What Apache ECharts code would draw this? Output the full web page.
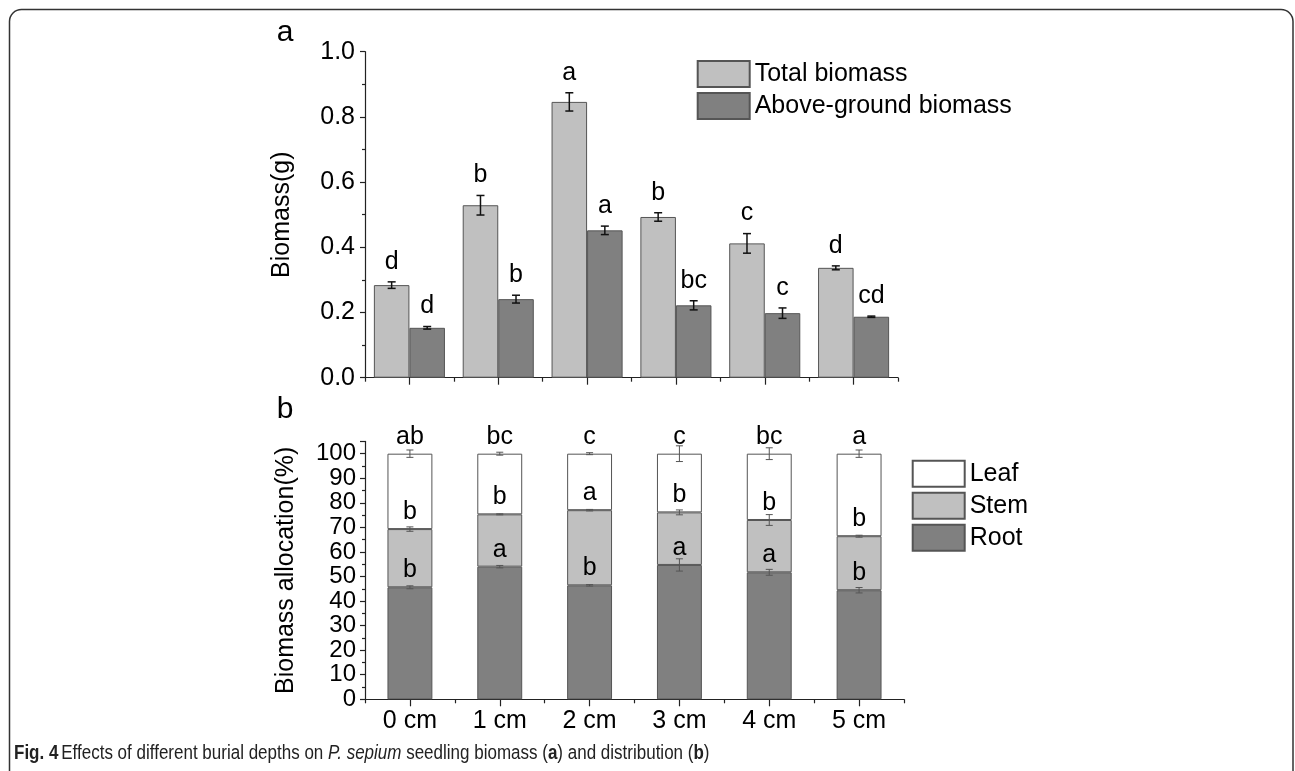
<!DOCTYPE html>
<html><head><meta charset="utf-8">
<script src="https://cdn.jsdelivr.net/npm/echarts@6/dist/echarts.min.js"></script>
<style>html,body{margin:0;padding:0;background:#fff}#c{width:1295px;height:771px}</style>
</head><body><div id="c"></div>
<script>
const categories = ['0 cm','1 cm','2 cm','3 cm','4 cm','5 cm'];
// panel a (g)
const totalBiomass = [0.284, 0.529, 0.846, 0.493, 0.412, 0.337];
const totalErr     = [0.010, 0.030, 0.028, 0.013, 0.030, 0.006];
const totalLetters = ['d','b','a','b','c','d'];
const aboveBiomass = [0.153, 0.241, 0.452, 0.222, 0.198, 0.187];
const aboveErr     = [0.004, 0.012, 0.013, 0.014, 0.016, 0.002];
const aboveLetters = ['d','b','a','bc','c','cd'];
// panel b (%)
const rootPct = [45.6, 54.0, 46.4, 54.7, 51.7, 44.4];
const rootErr = [0.6, 0.5, 0.3, 2.5, 1.2, 1.1];
const rootLetters = ['b','a','b','a','a','b'];
const stemPct = [23.7, 21.3, 30.6, 21.4, 21.3, 22.0];
const stemErr = [0.9, 0.2, 0.3, 1.0, 2.2, 0.4];
const stemLetters = ['b','b','a','b','b','b'];
const leafPct = [30.7, 24.7, 23.0, 23.9, 27.0, 33.6];
const leafErr = [1.5, 0.6, 0.4, 3.2, 2.4, 1.5];
const leafLetters = ['ab','bc','c','c','bc','a'];

const FONT = "'Liberation Sans', Arial, sans-serif";
const FS = 25;
const AXC = '#222';

function errRenderer(letters, opts) {
  return function (params, api) {
    const i = api.value(0), v = api.value(1), e = api.value(2);
    const bw = api.size([1, 0])[0];
    const x = api.coord([i, v])[0] + opts.offset * bw;
    const yTop = api.coord([i, v + e])[1];
    const yBot = api.coord([i, v - e])[1];
    const yVal = api.coord([i, v])[1];
    const ls = { stroke: opts.color, lineWidth: opts.lw };
    return {
      type: 'group',
      children: [
        { type: 'line', shape: { x1: x, y1: yTop, x2: x, y2: yBot }, style: ls },
        { type: 'line', shape: { x1: x - opts.cap, y1: yTop, x2: x + opts.cap, y2: yTop }, style: ls },
        { type: 'line', shape: { x1: x - opts.cap, y1: yBot, x2: x + opts.cap, y2: yBot }, style: ls },
        { type: 'text', x: x, y: (opts.fromErr ? yTop : yVal) - opts.lift,
          style: { text: letters[params.dataIndex], fill: '#000', fontSize: FS, fontFamily: FONT,
                   align: 'center', verticalAlign: 'middle' } }
      ]
    };
  };
}

const stemTop = rootPct.map((r, i) => r + stemPct[i]);
const leafTop = stemTop.map((s, i) => s + leafPct[i]);

function mkErr(vals, errs) { return vals.map((v, i) => [i, v, errs[i]]); }

function xCat(gridIndex, main, showLabel) {
  return {
    type: 'category', gridIndex: gridIndex, data: categories, position: 'bottom', boundaryGap: true,
    axisLine: { show: main, onZero: false, lineStyle: { color: AXC, width: 1.2 } },
    axisTick: { show: true, alignWithLabel: main, length: main ? 7 : 4, lineStyle: { color: AXC, width: 1.2 } },
    axisLabel: { show: showLabel && main, color: '#000', fontSize: FS, fontFamily: FONT, margin: 9,
                 interval: 0, hideOverlap: false },
    splitLine: { show: false }
  };
}

const CAPFONT = "'Liberation Sans', Arial, sans-serif";

const option = {
  backgroundColor: '#fff',
  animation: false,
  textStyle: { fontFamily: FONT },
  grid: [
    { left: 365, top: 51.7, width: 533, height: 326, outerBoundsMode: 'none' },
    { left: 365, top: 441.4, width: 539, height: 257.9, outerBoundsMode: 'none' }
  ],
  xAxis: [
    xCat(0, true, false), xCat(0, false, false),
    xCat(1, true, true), xCat(1, false, false)
  ],
  yAxis: [
    { type: 'value', gridIndex: 0, min: 0, max: 1.0, interval: 0.2,
      name: 'Biomass(g)', nameLocation: 'middle', nameGap: 70, nameRotate: 90,
      nameTextStyle: { fontSize: FS, color: '#000', fontFamily: FONT },
      axisLine: { show: true, lineStyle: { color: AXC, width: 1.2 } },
      axisTick: { show: true, length: 5, lineStyle: { color: AXC, width: 1.2 } },
      minorTick: { show: true, splitNumber: 2, length: 3, lineStyle: { color: AXC, width: 1.2 } },
      axisLabel: { fontSize: FS, color: '#000', fontFamily: FONT, margin: 10, showMinLabel: true,
                   hideOverlap: false, formatter: v => v.toFixed(1) },
      splitLine: { show: false } },
    { type: 'value', gridIndex: 1, min: 0, max: 105, interval: 10,
      name: 'Biomass allocation(%)', nameLocation: 'middle', nameGap: 66, nameRotate: 90,
      nameTextStyle: { fontSize: FS, color: '#000', fontFamily: FONT },
      axisLine: { show: true, lineStyle: { color: AXC, width: 1.2 } },
      axisTick: { show: true, length: 5, lineStyle: { color: AXC, width: 1.2 } },
      minorTick: { show: true, splitNumber: 2, length: 3, lineStyle: { color: AXC, width: 1.2 } },
      axisLabel: { fontSize: 24, color: '#000', fontFamily: FONT, margin: 9,
                   showMaxLabel: false, hideOverlap: false },
      splitLine: { show: false } }
  ],
  legend: [
    { orient: 'vertical', left: 696.7, top: 60, itemWidth: 52, itemHeight: 26, itemGap: 4,
      icon: 'rect', data: ['Total biomass', 'Above-ground biomass'],
      textStyle: { fontSize: FS, color: '#000', fontFamily: FONT },
      padding: 0, selectedMode: false },
    { orient: 'vertical', left: 911.7, top: 459.7, itemWidth: 52, itemHeight: 26, itemGap: 4,
      icon: 'rect', data: ['Leaf', 'Stem', 'Root'],
      textStyle: { fontSize: FS, color: '#000', fontFamily: FONT },
      padding: 0, selectedMode: false }
  ],
  series: [
    { name: 'Total biomass', type: 'bar', xAxisIndex: 0, yAxisIndex: 0, data: totalBiomass,
      barGap: '0%', barCategoryGap: '20%',
      itemStyle: { color: '#c0c0c0', borderColor: '#555', borderWidth: 1 } },
    { name: 'Above-ground biomass', type: 'bar', xAxisIndex: 0, yAxisIndex: 0, data: aboveBiomass,
      barGap: '0%', barCategoryGap: '20%',
      itemStyle: { color: '#808080', borderColor: '#555', borderWidth: 1 } },
    { name: 'Root', type: 'bar', xAxisIndex: 2, yAxisIndex: 1, stack: 'alloc', data: rootPct,
      barWidth: '50%', itemStyle: { color: '#808080', borderColor: '#555', borderWidth: 1 } },
    { name: 'Stem', type: 'bar', xAxisIndex: 2, yAxisIndex: 1, stack: 'alloc', data: stemPct,
      barWidth: '50%', itemStyle: { color: '#c0c0c0', borderColor: '#555', borderWidth: 1 } },
    { name: 'Leaf', type: 'bar', xAxisIndex: 2, yAxisIndex: 1, stack: 'alloc', data: leafPct,
      barWidth: '50%', itemStyle: { color: '#ffffff', borderColor: '#555', borderWidth: 1 } },
    { type: 'custom', xAxisIndex: 0, yAxisIndex: 0, z: 10, data: mkErr(totalBiomass, totalErr),
      renderItem: errRenderer(totalLetters, { offset: -0.2, cap: 4, lw: 1.5, color: '#111', fromErr: true, lift: 20 }) },
    { type: 'custom', xAxisIndex: 0, yAxisIndex: 0, z: 10, data: mkErr(aboveBiomass, aboveErr),
      renderItem: errRenderer(aboveLetters, { offset: 0.2, cap: 4, lw: 1.5, color: '#111', fromErr: true, lift: 20 }) },
    { type: 'custom', xAxisIndex: 2, yAxisIndex: 1, z: 10, data: mkErr(rootPct, rootErr),
      renderItem: errRenderer(rootLetters, { offset: 0, cap: 3.5, lw: 1, color: '#555', fromErr: false, lift: 17 }) },
    { type: 'custom', xAxisIndex: 2, yAxisIndex: 1, z: 10, data: mkErr(stemTop, stemErr),
      renderItem: errRenderer(stemLetters, { offset: 0, cap: 3.5, lw: 1, color: '#555', fromErr: false, lift: 17 }) },
    { type: 'custom', xAxisIndex: 2, yAxisIndex: 1, z: 10, data: mkErr(leafTop, leafErr),
      renderItem: errRenderer(leafLetters, { offset: 0, cap: 3.5, lw: 1, color: '#555', fromErr: false, lift: 17 }) }
  ],
  graphic: [
    { type: 'rect', shape: { x: 9.5, y: 9.5, width: 1283.5, height: 820, r: 12 },
      style: { fill: 'none', stroke: '#333', lineWidth: 1.5 }, silent: true },
    { type: 'text', x: 285, y: 33, style: { text: 'a', fontSize: 30, fontFamily: FONT, fill: '#000', align: 'center', verticalAlign: 'middle' } },
    { type: 'text', x: 285, y: 410, style: { text: 'b', fontSize: 30, fontFamily: FONT, fill: '#000', align: 'center', verticalAlign: 'middle' } },
    { type: 'text', x: 14, y: 753, scaleX: 0.85, scaleY: 1,
      style: {
        text: '{b|Fig. 4} {n|Effects of different burial depths on }{i|P. sepium}{n| seedling biomass (}{b|a}{n|) and distribution (}{b|b}{n|)}',
        verticalAlign: 'middle', fill: '#222',
        rich: {
          b: { fontWeight: 'bold', fontSize: 20, fontFamily: CAPFONT, fill: '#222' },
          n: { fontSize: 20, fontFamily: CAPFONT, fill: '#222' },
          i: { fontStyle: 'italic', fontSize: 20, fontFamily: CAPFONT, fill: '#222' }
        }
      } }
  ]
};

const chart = echarts.init(document.getElementById('c'), null, { renderer: 'canvas' });
chart.setOption(option);
</script>
</body></html>
